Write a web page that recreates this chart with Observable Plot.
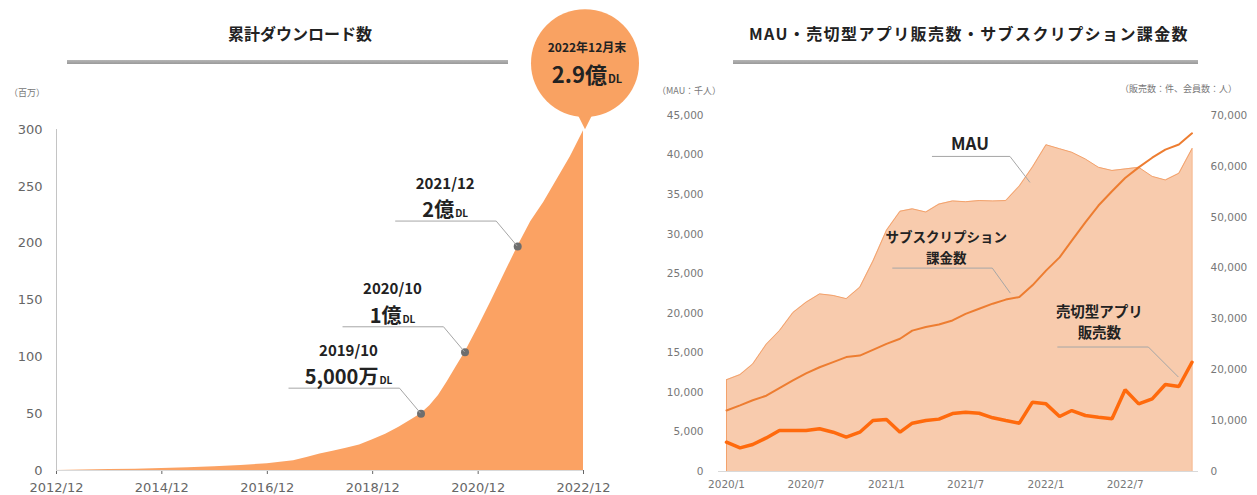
<!DOCTYPE html>
<html><head><meta charset="utf-8">
<script src="https://cdn.jsdelivr.net/npm/d3@7"></script>
<script src="https://cdn.jsdelivr.net/npm/@observablehq/plot@0.6"></script>
<style>
  html,body{margin:0;padding:0;background:#fff;}
  #wrap{position:relative;width:1257px;height:495px;overflow:hidden;background:#fff;font-family:"Noto Sans CJK JP","Noto Sans",sans-serif;}
  #wrap > svg, #wrap > figure{position:absolute;top:0;margin:0;}
  .ttl{position:absolute;transform:translate(-50%,-50%);font-weight:700;font-size:16px;color:#222;white-space:nowrap;}
  .bar{position:absolute;height:4px;background:linear-gradient(#b5b5b5,#9a9a9a);}
  .unit{position:absolute;font-size:9px;color:#777;white-space:nowrap;transform:translateY(-50%);}
</style>
</head><body>
<div id="wrap">
  <div class="ttl" style="left:300px;top:33px;">累計ダウンロード数</div>
  <div class="bar" style="left:67px;top:60px;width:441px;"></div>
  <div class="unit" style="left:9px;top:92px;">（百万）</div>
  <div class="ttl" style="left:969px;top:33px;letter-spacing:1.4px;">MAU・売切型アプリ販売数・サブスクリプション課金数</div>
  <div class="bar" style="left:733px;top:60px;width:465px;"></div>
  <div class="unit" style="left:657px;top:90px;">（MAU：千人）</div>
  <div class="unit" style="left:1120px;top:88px;">（販売数：件、会員数：人）</div>
</div>
<script>
// ---------- Left chart data: cumulative downloads (millions) ----------
const dlMonths = ["2012-12","2013-06","2013-12","2014-06","2014-12","2015-06","2015-12","2016-06","2016-12",
  "2017-03","2017-06","2017-09","2017-12","2018-03","2018-06","2018-09","2018-12","2019-03","2019-06","2019-09",
  "2019-11","2020-01","2020-03","2020-05","2020-07","2020-09","2020-12","2021-03","2021-06","2021-09","2021-12",
  "2022-03","2022-06","2022-09","2022-12"];
const dlValues = [0,0.4,0.8,1.2,1.7,2.5,3.4,4.5,6,
  7.3,8.5,11.5,14.5,17,19.5,22.5,27,32,38,45,
  50,57,66,78,91,104,126,149,173,197,219,
  236,256,276,299];
const dlTicks = ["2012-12","2014-12","2016-12","2018-12","2020-12","2022-12"];
const dlYTicks = [0,50,100,150,200,250,300];
// milestones (positions where the dots sit on the area)
const msMonths = ["2019-11","2020-09","2021-09"];
const msValues = [50,104,197];
const msDateLabels = ["2019/10","2020/10","2021/12"];
const msBigLabels = ["5,000万","1億","2億"];
const bubbleLine1 = "2022年12月末";
const bubbleBig = "2.9億";

// ---------- Right chart data ----------
const months = ["2020-01","2020-02","2020-03","2020-04","2020-05","2020-06","2020-07","2020-08","2020-09","2020-10","2020-11","2020-12",
  "2021-01","2021-02","2021-03","2021-04","2021-05","2021-06","2021-07","2021-08","2021-09","2021-10","2021-11","2021-12",
  "2022-01","2022-02","2022-03","2022-04","2022-05","2022-06","2022-07","2022-08","2022-09","2022-10","2022-11","2022-12"];
const mau = [11600,12250,13600,16100,17800,20100,21400,22450,22250,21850,23300,26600,
  30500,32900,33200,32800,33800,34200,34100,34250,34200,34250,36100,38500,
  41300,40800,40350,39500,38450,38050,38250,38450,37300,36850,37700,40800];
const subs = [12000,13000,14000,14900,16400,17900,19300,20500,21500,22500,22800,23900,
  25100,26100,27700,28400,28900,29700,31000,32000,33000,33800,34300,36600,
  39500,42100,45400,49000,52300,55100,57700,59800,61700,63300,64300,66500];
const sales = [5760,4650,5300,6600,8060,8060,8060,8400,7730,6750,7730,10030,
  10220,7730,9500,10030,10300,11400,11660,11460,10560,10030,9500,13630,
  13300,10810,11990,11010,10680,10360,16060,13300,14290,17100,16710,21490];
const rXTicks = ["2020-01","2020-07","2021-01","2021-07","2022-01","2022-07"];
const rLeftTicks = [0,5000,10000,15000,20000,25000,30000,35000,40000,45000];
const rRightTicks = [0,10000,20000,30000,40000,50000,60000,70000];
const seriesLabels = {mau:["MAU"], subs:["サブスクリプション","課金数"], sales:["売切型アプリ","販売数"]};

// ---------- helpers ----------
const toDate = s => { const [y,m] = s.split("-").map(Number); return new Date(Date.UTC(y, m-1, 1)); };
const fmtYM = d => d.getUTCFullYear() + "/" + (d.getUTCMonth()+1);
const fmtYM2 = d => d.getUTCFullYear() + "/" + String(d.getUTCMonth()+1).padStart(2,"0");
const wrap = document.getElementById("wrap");
const ANNO_FONT = '"Noto Sans CJK JP","Noto Sans",sans-serif';
const LEADER = "#a6a6a6";

// ================= LEFT CHART =================
const dl = dlMonths.map((m,i) => ({date: toDate(m), value: dlValues[i]}));
const ms = msMonths.map((m,i) => ({date: toDate(m), value: msValues[i], d: msDateLabels[i], b: msBigLabels[i]}));
const left = Plot.plot({
  width: 640, height: 495,
  marginLeft: 56, marginRight: 57, marginTop: 129, marginBottom: 25,
  style: {fontFamily: "DejaVu Sans", fontSize: "13px", color: "#666", background: "transparent", overflow: "visible"},
  x: {type: "utc", domain: [toDate(dlMonths[0]), toDate(dlMonths[dlMonths.length-1])], ticks: dlTicks.map(toDate),
      tickFormat: fmtYM2, tickSize: 4, tickPadding: 8, label: null},
  y: {domain: [0, 300], ticks: dlYTicks, tickSize: 0, tickPadding: 14, label: null},
  marks: [
    Plot.areaY(dl, {x: "date", y: "value", fill: "#FBA263"}),
    Plot.ruleX([toDate(dlMonths[0])], {stroke: "#c4c4c4"}),
    Plot.ruleY([0], {stroke: "#d9d9d9"}),
    Plot.dot(ms, {x: "date", y: "value", r: 4, fill: "#6e6e6e"})
  ]
});
left.style.left = "0px";
wrap.appendChild(left);

{
  const sx = left.scale("x"), sy = left.scale("y");
  const g = d3.select(left).append("g").attr("font-family", ANNO_FONT).attr("fill", "#222");
  ms.forEach((p, i) => {
    const px = sx.apply(p.date), py = sy.apply(p.value);
    const x0 = i === 0 ? px - 132 : px - 122;
    g.append("path").attr("d", `M${x0},${py-25}H${px-21}L${px},${py}`)
      .attr("fill", "none").attr("stroke", LEADER).attr("stroke-width", 1);
    g.append("text").attr("x", px - 72).attr("y", py - 57.5).attr("text-anchor", "middle")
      .attr("font-size", 15).attr("font-weight", 700).text(p.d);
    const t = g.append("text").attr("x", px - 72).attr("y", py - 29).attr("text-anchor", "middle")
      .attr("font-weight", 700);
    t.append("tspan").attr("font-size", 20).text(p.b);
    t.append("tspan").attr("font-size", 10).attr("dx", 1).text("DL");
  });
  // bubble anchored at the last data point
  const last = dl[dl.length-1];
  const tx = sx.apply(last.date) + 2, ty = sy.apply(last.value) - 1;
  const cx = tx, cy = ty - 66, r = 54;
  g.append("path").attr("d", `M${tx-9},${cy+r-6}L${tx},${ty}L${tx+9},${cy+r-6}Z`).attr("fill", "#F9A262");
  g.append("circle").attr("cx", cx).attr("cy", cy).attr("r", r).attr("fill", "#F9A262");
  g.append("text").attr("x", cx + 2).attr("y", cy - 11).attr("text-anchor", "middle")
    .attr("font-size", 12).attr("font-weight", 700).text(bubbleLine1);
  const bt = g.append("text").attr("x", cx + 2).attr("y", cy + 20).attr("text-anchor", "middle")
    .attr("font-weight", 700);
  bt.append("tspan").attr("font-size", 22).text(bubbleBig);
  bt.append("tspan").attr("font-size", 11).attr("dx", 1).text("DL");
}

// ================= RIGHT CHART =================
const rows = months.map((m,i) => ({date: toDate(m), mau: mau[i], subs: subs[i], sales: sales[i]}));
const xDomain = [toDate(months[0]), toDate(months[months.length-1])];
const common = {
  width: 617, height: 495, marginLeft: 78, marginRight: 59, marginTop: 115, marginBottom: 24,
  style: {fontFamily: "DejaVu Sans", fontSize: "10.5px", color: "#777", background: "transparent", overflow: "visible"}
};
const right1 = Plot.plot({
  ...common,
  x: {type: "utc", domain: xDomain, insetLeft: 8, insetRight: 6.5, ticks: rXTicks.map(toDate), tickFormat: fmtYM,
      tickSize: 0, tickPadding: 9, label: null},
  y: {domain: [0, 45000], ticks: rLeftTicks, tickFormat: d3.format(","), tickSize: 0, tickPadding: 15, label: null},
  marks: [
    Plot.areaY(rows, {x: "date", y: "mau", fill: "#F8CBAD"}),
    Plot.lineY(rows, {x: "date", y: "mau", stroke: "#F3A26C", strokeWidth: 1}),
    Plot.ruleX([rows[0], rows[rows.length-1]], {x: "date", y1: 0, y2: "mau", stroke: "#F3A26C", strokeWidth: 1}),
    Plot.ruleY([0], {stroke: "#d9d9d9"})
  ]
});
right1.style.left = "640px";
wrap.appendChild(right1);

const right2 = Plot.plot({
  ...common,
  x: {type: "utc", domain: xDomain, insetLeft: 8, insetRight: 6.5, axis: null},
  y: {domain: [0, 70000], axis: "right", ticks: rRightTicks, tickFormat: d3.format(","), tickSize: 0, tickPadding: 12, label: null},
  marks: [
    Plot.lineY(rows, {x: "date", y: "subs", stroke: "#ED7D31", strokeWidth: 2}),
    Plot.lineY(rows, {x: "date", y: "sales", stroke: "#FF6A0D", strokeWidth: 3.5, strokeLinejoin: "miter"})
  ]
});
right2.style.left = "640px";
wrap.appendChild(right2);

{
  const sx = right2.scale("x"), sy2 = right2.scale("y"), sy1 = right1.scale("y");
  const g = d3.select(right2).append("g").attr("font-family", ANNO_FONT).attr("fill", "#222").attr("font-weight", 700);
  const leader = (ax, ay, xa, xb, hy, ex, ey) =>
    g.append("path").attr("d", `M${ax+xa},${ay+hy}H${ax+xb}L${ax+ex},${ay+ey}`)
      .attr("fill", "none").attr("stroke", LEADER).attr("stroke-width", 1);
  const label = (x, y, lines, size, gap) => lines.forEach((s, k) =>
    g.append("text").attr("x", x).attr("y", y + k*gap + size*0.36).attr("text-anchor", "middle")
      .attr("font-size", size).text(s));
  // MAU anchor: 2021-12
  const a1 = rows[23];
  let ax = sx.apply(a1.date), ay = sy1.apply(a1.mau);
  leader(ax, ay, -100, -22, -10, -2, 16);
  label(ax - 62, ay - 23, seriesLabels.mau, 17, 0);
  // subscription anchor: 2021-10
  const a2 = rows[21];
  ax = sx.apply(a2.date); ay = sy2.apply(a2.subs);
  leader(ax, ay, -113, -13, -31, 5, -6);
  label(ax - 59, ay - 62, seriesLabels.subs, 13.5, 21);
  // sales anchor: 2022-11
  const a3 = rows[34];
  ax = sx.apply(a3.date); ay = sy2.apply(a3.sales);
  leader(ax, ay, -121, -30, -39, 0, -9);
  label(ax - 79, ay - 74, seriesLabels.sales, 14.5, 21);
}
</script>
</body></html>
